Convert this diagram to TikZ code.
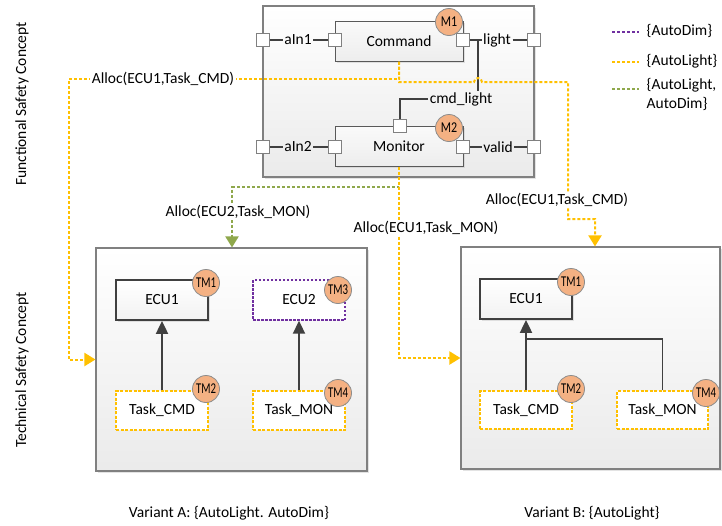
\documentclass[tikz,border=0pt]{standalone}
\usepackage{fontspec}
\usepackage{graphicx}
\setmainfont{Carlito}
\usetikzlibrary{arrows.meta,shadows,calc}
\definecolor{ylw}{HTML}{FFC000}
\definecolor{grn}{HTML}{8FA84C}
\definecolor{purp}{HTML}{7030A0}
\definecolor{dark}{HTML}{404040}
\definecolor{boxgray}{HTML}{808080}
\definecolor{compgray}{HTML}{595959}
\definecolor{badgefill}{HTML}{F4B183}
\definecolor{badgeline}{HTML}{8C8C8C}
\begin{document}
\begin{tikzpicture}[x=1pt,y=-1pt,
  every node/.style={font=\fontsize{15.5}{18.5}\selectfont, inner sep=1.5pt},
  shd/.style={drop shadow={shadow xshift=2pt,shadow yshift=-2pt,fill=black!22}},
  outerbox/.style={draw=boxgray, line width=1.1pt, top color=white, bottom color=black!8, shd},
  comp/.style={draw=compgray, line width=1pt, top color=black!2, bottom color=black!7, shd},
  hw/.style={draw=dark, line width=1.8pt, top color=white, bottom color=black!5, shd},
  hwv/.style={draw=purp, line width=1.4pt, dash pattern=on 2.5pt off 1.5pt, fill=white},
  task/.style={draw=ylw, line width=1.5pt, dash pattern=on 3pt off 1.5pt, fill=white},
  port/.style={draw=boxgray, fill=white, minimum size=13pt, inner sep=0pt, line width=0.8pt},
  badge/.style={circle, draw=badgeline, fill=badgefill, minimum size=27pt, inner sep=0pt, line width=0.8pt, font=\fontsize{15}{15}\selectfont},
  wire/.style={draw=dark, line width=1.5pt},
  conn/.style={draw=dark, line width=2pt, -{Triangle[width=12pt,length=13pt]}},
  alloc/.style={line width=2pt, dash pattern=on 3pt off 2pt},
  alloctip/.style={alloc, -{Triangle[width=13pt,length=11pt]}},
  lbl/.style={fill=white, inner sep=1.5pt}
]
\useasboundingbox (0,0) rectangle (722,525);

% side labels
\node[rotate=90] (fscl) at (22,104) {Functional Safety Concept};
\node[rotate=90] (tscl) at (22,370) {Technical Safety Concept};

% outer boxes
\node[outerbox, minimum width=271pt, minimum height=171pt] (fsc) at (398.5,91.5) {};
\node[outerbox, minimum width=271pt, minimum height=223pt] (boxA) at (231.5,359.5) {};
\node[outerbox, minimum width=259pt, minimum height=222pt] (boxB) at (590.5,358) {};

% FSC components
\node[comp, minimum width=128pt, minimum height=40pt] (cmd) at (399,41) {Command};
\node[comp, minimum width=128pt, minimum height=40pt] (mon) at (399,146) {Monitor};

% ports
\node[port] (pa1) at (263,40) {};
\node[port] (pci) at (335,40) {};
\node[port] (pco) at (463,40) {};
\node[port] (plt) at (534,40) {};
\node[port] (pa2) at (263,147) {};
\node[port] (pmi) at (335,147) {};
\node[port] (pmo) at (463,147) {};
\node[port] (pvd) at (534,147) {};
\node[port] (pmt) at (400,126) {};

% port labels
\node (la1) at (298,40) {aIn1};
\node (llt) at (497,40) {light};
\node (la2) at (298,147) {aIn2};
\node (lvd) at (498,147) {valid};
\node (lcl) at (461,99) {cmd\_light};

% wires
\draw[wire] (pa1.east) -- (la1.west);
\draw[wire] (la1.east) -- (pci.west);
\draw[wire] (pco.east) -- (llt.west);
\draw[wire] (llt.east) -- (plt.west);
\coordinate (jn) at (478,40);
\draw[wire] (jn) -- (jn |- lcl.north);
\draw[wire] (lcl.west) -| (pmt.north);
\draw[wire] (pa2.east) -- (la2.west);
\draw[wire] (la2.east) -- (pmi.west);
\draw[wire] (pmo.east) -- (lvd.west);
\draw[wire] (lvd.east) -- (pvd.west);

% TSC variant A
\node[hw, minimum width=92pt, minimum height=40pt] (ecu1A) at (162,300) {ECU1};
\node[hwv, minimum width=92pt, minimum height=40pt] (ecu2A) at (299,300) {ECU2};
\node[task, minimum width=92pt, minimum height=39pt] (tcmdA) at (162,410.5) {Task\_CMD};
\node[task, minimum width=92pt, minimum height=39pt] (tmonA) at (299,410.5) {Task\_MON};
\draw[conn] (tcmdA.north) -- (ecu1A.south);
\draw[conn] (tmonA.north) -- (ecu2A.south);

% TSC variant B
\node[hw, minimum width=92pt, minimum height=40pt] (ecu1B) at (526,299) {ECU1};
\node[task, minimum width=92pt, minimum height=38pt] (tcmdB) at (526,410) {Task\_CMD};
\node[task, minimum width=91pt, minimum height=38pt] (tmonB) at (662.5,410) {Task\_MON};
\draw[conn] (tcmdB.north) -- (ecu1B.south);
\coordinate (brB) at (526,339);
\draw[wire] (tmonB.north) |- (brB);

% allocation connectors
\coordinate (lcor) at (68.5,79);
\draw[alloctip, draw=grn] (mon.south) -- (399,187) -| (boxA.north -| 232,0);
\draw[alloctip, draw=ylw] (cmd.south) -- (399,79) -- (lcor) -- (lcor |- boxA.west) -- (boxA.west);
\draw[alloctip, draw=ylw] (cmd.south) -- (399,82) -- (474,82) arc[start angle=180,end angle=360,radius=4] -- (568,82) -- (568,219) -| (boxB.north -| 595,0);
\draw[alloctip, draw=ylw] (mon.south) -- (mon.south |- boxB.west) -- (boxB.west);

\node[lbl] (al1) at (163,79) {Alloc(ECU1,Task\_CMD)};
\node[lbl] (al2) at (557,200) {Alloc(ECU1,Task\_CMD)};
\node[lbl] (al3) at (238,212) {Alloc(ECU2,Task\_MON)};
\node[lbl] (al4) at (426,228) {Alloc(ECU1,Task\_MON)};

% badges
\node[badge] (m1) at (449,22) {\scalebox{0.8}[1]{M1}};
\node[badge] (m2) at (449,128) {\scalebox{0.8}[1]{M2}};
\node[badge] (tm1a) at (206,283) {\scalebox{0.72}[1]{TM1}};
\node[badge] (tm3a) at (338,290) {\scalebox{0.72}[1]{TM3}};
\node[badge] (tm2a) at (206,389) {\scalebox{0.72}[1]{TM2}};
\node[badge] (tm4a) at (338,393) {\scalebox{0.72}[1]{TM4}};
\node[badge] (tm1b) at (571,282) {\scalebox{0.72}[1]{TM1}};
\node[badge] (tm2b) at (571,389) {\scalebox{0.72}[1]{TM2}};
\node[badge] (tm4b) at (706,393) {\scalebox{0.72}[1]{TM4}};

% legend
\coordinate (lg1a) at (612,32); \coordinate (lg1b) at (639,32);
\coordinate (lg2a) at (612,62); \coordinate (lg2b) at (639,62);
\coordinate (lg3a) at (612,89); \coordinate (lg3b) at (639,89);
\draw[alloc, draw=purp, line width=1.5pt] (lg1a) -- (lg1b);
\draw[alloc, draw=ylw, line width=1.5pt] (lg2a) -- (lg2b);
\draw[alloc, draw=grn, line width=1.5pt] (lg3a) -- (lg3b);
\node[anchor=west] (lgt1) at (645,31) {\{AutoDim\}};
\node[anchor=west] (lgt2) at (645,61) {\{AutoLight\}};
\node[anchor=north west, align=left] (lgt3) at (645,77) {\{AutoLight,\\AutoDim\}};

% variant captions
\node (va) at (229,513) {Variant A: \{AutoLight. AutoDim\}};
\node (vb) at (592,513) {Variant B: \{AutoLight\}};
\end{tikzpicture}
\end{document}
